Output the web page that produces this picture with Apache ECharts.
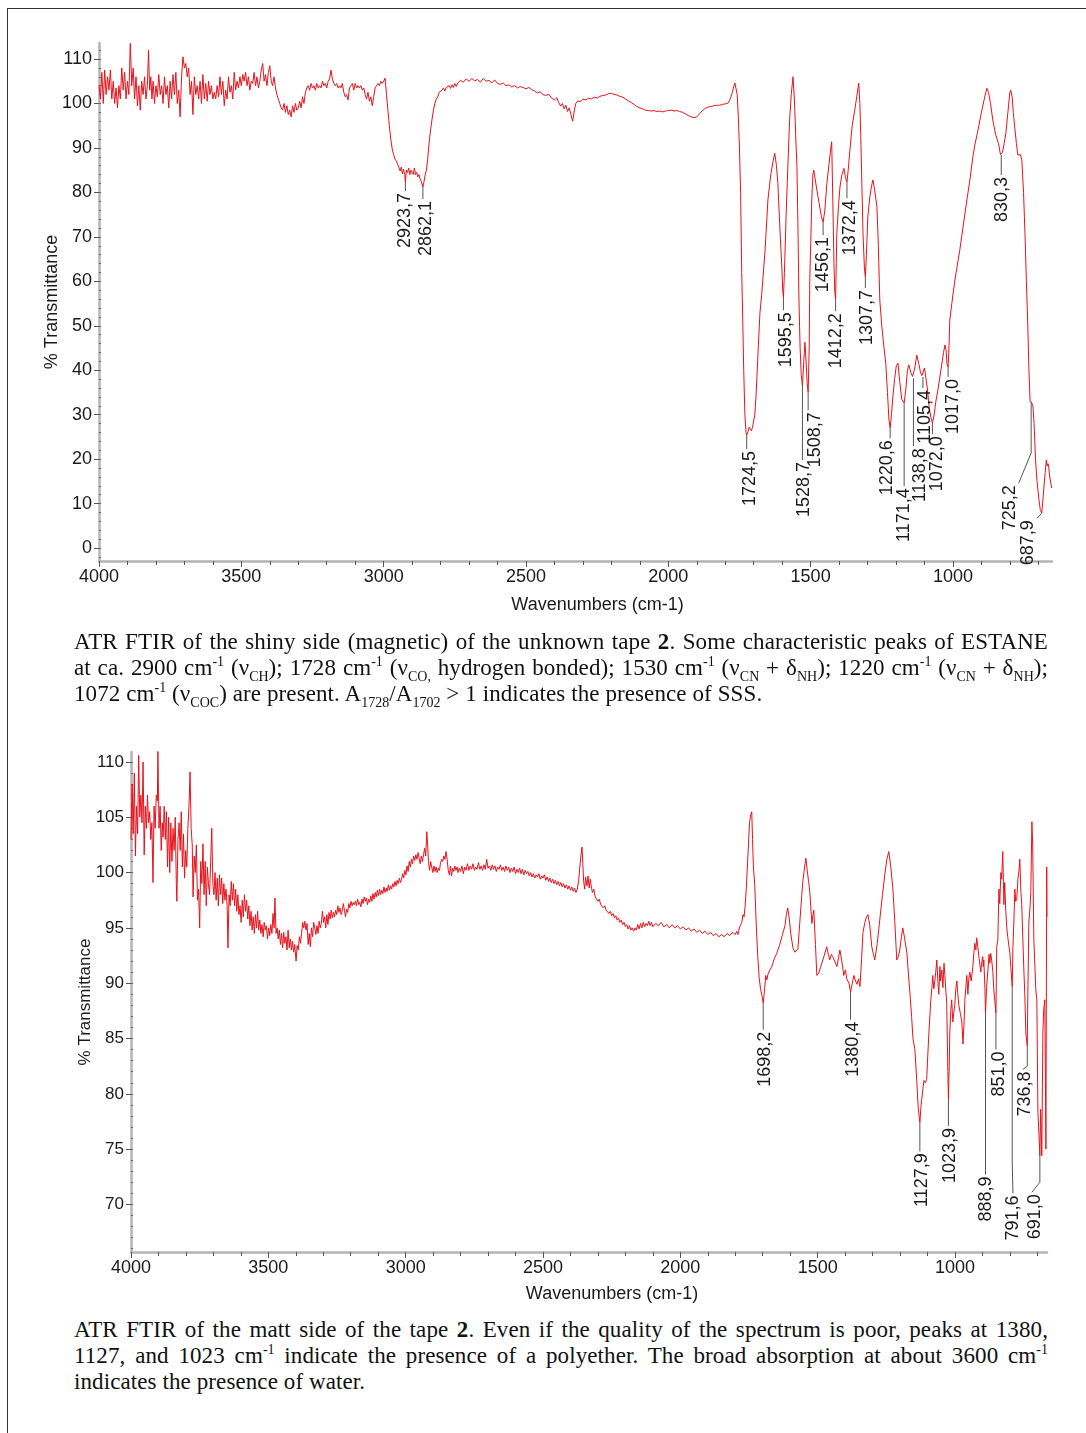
<!DOCTYPE html>
<html><head><meta charset="utf-8">
<script src="https://cdn.jsdelivr.net/npm/echarts@6.0.0/dist/echarts.min.js"></script>
<style>
html,body{margin:0;padding:0;background:#fff;}
body{width:1086px;height:1433px;position:relative;overflow:hidden;}
#frame{position:absolute;left:7px;top:8px;width:1200px;height:1500px;border-left:1.5px solid #333;border-top:1.5px solid #333;}
#c1{position:absolute;left:0;top:0;width:1086px;height:620px;}
#c2{position:absolute;left:0;top:700px;width:1086px;height:610px;}
.cap{position:absolute;left:74px;width:974px;font-family:"Liberation Serif","Times New Roman",serif;font-size:23px;letter-spacing:0.1px;line-height:26px;color:#111;}
.cap .l{white-space:nowrap;text-align:justify;text-align-last:justify;}
.cap .l.last{text-align-last:left;}
.cap sub,.cap sup{font-size:14px;line-height:0;letter-spacing:0;}
</style></head>
<body>
<div id="frame"></div>
<div id="c1"></div>
<div id="c2"></div>
<div class="cap" style="top:629px">
<div class="l">ATR FTIR of the shiny side (magnetic) of the unknown tape <b>2</b>. Some characteristic peaks of ESTANE</div>
<div class="l">at ca. 2900 cm<sup>-1</sup> (ν<sub>CH</sub>); 1728 cm<sup>-1</sup> (ν<sub>CO,</sub> hydrogen bonded); 1530 cm<sup>-1</sup> (ν<sub>CN</sub> + δ<sub>NH</sub>); 1220 cm<sup>-1</sup> (ν<sub>CN</sub> + δ<sub>NH</sub>);</div>
<div class="l last">1072 cm<sup>-1</sup> (ν<sub>COC</sub>) are present. A<sub>1728</sub>/A<sub>1702</sub> &gt; 1 indicates the presence of SSS.</div>
</div>
<div class="cap" style="top:1317px">
<div class="l">ATR FTIR of the matt side of the tape <b>2</b>. Even if the quality of the spectrum is poor, peaks at 1380,</div>
<div class="l">1127, and 1023 cm<sup>-1</sup> indicate the presence of a polyether. The broad absorption at about 3600 cm<sup>-1</sup></div>
<div class="l last">indicates the presence of water.</div>
</div>
<script>
// ---------------- DATA ----------------
var xTicks1 = [4000,3500,3000,2500,2000,1500,1000];
var xMinor1 = [4000,3900,3800,3700,3600,3500,3400,3300,3200,3100,3000,2900,2800,2700,2600,2500,2400,2300,2200,2100,2000,1900,1800,1700,1600,1500,1400,1300,1200,1100,1000,900,800,700];
var yTicks1 = [0,10,20,30,40,50,60,70,80,90,100,110];
var yMinor1 = [-2,0,2,4,6,8,10,12,14,16,18,20,22,24,26,28,30,32,34,36,38,40,42,44,46,48,50,52,54,56,58,60,62,64,66,68,70,72,74,76,78,80,82,84,86,88,90,92,94,96,98,100,102,104,106,108,110,112];

var xTicks2 = [4000,3500,3000,2500,2000,1500,1000];
var xMinor2 = [4000,3900,3800,3700,3600,3500,3400,3300,3200,3100,3000,2900,2800,2700,2600,2500,2400,2300,2200,2100,2000,1900,1800,1700,1600,1500,1400,1300,1200,1100,1000,900,800,700];
var yTicks2 = [70,75,80,85,90,95,100,105,110];
var yMinor2 = [66,67,68,69,70,71,72,73,74,75,76,77,78,79,80,81,82,83,84,85,86,87,88,89,90,91,92,93,94,95,96,97,98,99,100,101,102,103,104,105,106,107,108,109,110];

// spectrum 1: [wavenumber, %T]
var spectrum1 = [
[4000,104],[3995,101],[3990,107],[3985,100],[3980,107.5],[3975,102],[3970,106],[3965,103],[3960,107.5],[3955,101],[3950,105],[3945,100],[3940,103.5],[3935,99],[3930,104],[3925,101],[3920,108],[3915,103],[3910,107],[3905,101],[3900,105],[3895,102],[3890,113.5],[3885,104],[3880,108],[3875,101],[3870,106],[3865,99.5],[3860,104],[3855,98.5],[3850,105],[3845,102],[3840,106],[3835,101],[3830,104],[3826,112],[3822,103],[3818,106],[3814,101],[3810,105],[3805,100],[3800,104],[3795,101.5],[3790,106.5],[3785,102],[3780,104],[3775,100],[3770,106],[3765,102],[3760,104],[3755,99],[3750,105],[3745,101],[3740,106.5],[3735,102],[3730,107],[3725,100],[3720,103],[3715,97],[3710,106],[3705,110.5],[3700,108],[3695,109],[3690,106],[3685,108],[3680,102],[3675,105],[3670,97.5],[3665,106],[3660,102],[3655,104],[3650,101],[3645,105],[3640,100],[3635,106.5],[3630,101],[3625,104.5],[3620,100.5],[3615,105],[3610,102],[3605,104],[3600,101],[3595,102.5],[3590,101],[3585,104],[3580,101.5],[3575,106],[3570,102],[3565,105],[3560,99.5],[3555,103],[3550,101],[3545,106],[3540,102.5],[3535,104],[3530,101],[3525,107],[3520,103],[3515,105],[3510,103.5],[3505,106],[3500,104],[3495,106.5],[3490,105],[3485,107],[3480,104],[3475,106],[3470,103],[3465,105],[3460,104.5],[3455,107],[3450,104],[3445,106],[3440,103.5],[3435,105],[3430,107.5],[3425,109],[3420,105],[3415,106.5],[3410,104],[3405,107],[3400,108.5],[3395,105],[3390,104],[3385,106],[3380,103.5],[3375,102],[3370,101],[3365,100],[3360,99],[3355,98.5],[3350,100],[3345,98],[3340,99.5],[3335,97.5],[3330,98.5],[3325,97],[3320,99.5],[3315,98],[3310,100],[3305,98.5],[3300,99],[3295,100.5],[3290,99],[3285,101.5],[3280,100],[3275,102.5],[3270,103.5],[3265,104],[3260,103],[3255,104.5],[3250,103.5],[3245,104],[3240,103],[3235,104.5],[3230,103.5],[3225,104],[3220,103.5],[3215,105],[3210,104],[3205,104.5],[3200,103.5],[3195,105],[3190,105.5],[3185,107.5],[3180,105.5],[3175,104.5],[3170,104],[3165,104.5],[3160,103.5],[3155,104],[3150,103.5],[3145,104.5],[3140,102.5],[3135,101.5],[3130,102],[3125,100.8],[3120,103.5],[3115,104],[3110,104.5],[3105,103],[3100,104.5],[3095,103.5],[3090,104],[3085,103.5],[3080,104],[3075,103],[3070,103.5],[3065,102],[3060,101],[3055,102.5],[3050,100.5],[3045,101.5],[3040,99.5],[3035,101.5],[3030,103.5],[3025,104],[3020,104.5],[3015,104],[3010,105],[3005,104.5],[3000,105],[2995,105.7],[2990,102],[2985,98.5],[2980,95],[2975,92],[2970,89.8],[2965,88.5],[2960,87.5],[2955,87],[2950,86.2],[2946,86],[2942,84.8],[2938,85.7],[2934,84.2],[2930,85.2],[2926,84],[2923.7,82.3],[2920,85],[2916,84.5],[2912,85.5],[2908,84],[2904,85],[2900,84.5],[2896,84],[2892,85.5],[2888,84],[2884,84.5],[2880,83.5],[2876,84],[2872,83],[2868,82.5],[2862.1,81.2],[2858,82.5],[2854,84],[2850,85],[2846,87],[2842,90],[2838,92.5],[2834,94.5],[2830,96.5],[2825,98.5],[2820,100],[2815,101],[2810,101.5],[2805,102.5],[2800,102.5],[2795,103],[2790,103.5],[2785,102.8],[2780,103.6],[2775,103.2],[2770,104],[2765,103.4],[2760,104.2],[2755,103.6],[2750,104.5],[2745,103.8],[2740,104.6],[2735,104.9],[2730,105.2],[2720,104.8],[2710,105.5],[2700,105],[2690,105.6],[2680,105.1],[2670,105.4],[2660,104.8],[2650,105.6],[2640,105],[2630,105.2],[2620,104.6],[2610,105.3],[2600,104.5],[2590,104.3],[2580,104.6],[2570,104],[2560,104.2],[2550,103.7],[2540,104],[2530,103.5],[2520,103.8],[2510,103.6],[2500,103.3],[2490,103.6],[2480,103.1],[2470,102.8],[2460,102.4],[2450,102.6],[2440,102],[2430,101.8],[2420,102.1],[2410,101.2],[2400,100.8],[2392,101.3],[2385,100.2],[2378,99.4],[2372,100],[2366,98.8],[2360,99.6],[2354,98.2],[2348,99],[2342,97.5],[2336,96],[2330,98.5],[2325,100],[2318,100.6],[2310,100.4],[2300,101],[2290,100.8],[2280,101.2],[2270,101],[2260,101.4],[2250,101.2],[2240,101.6],[2230,101.8],[2220,101.9],[2210,102.2],[2200,102.3],[2190,102],[2180,101.9],[2170,101.6],[2160,101.4],[2150,101],[2140,100.6],[2130,100.2],[2120,99.8],[2110,99.3],[2100,99],[2090,98.8],[2080,98.5],[2070,98.4],[2060,98.3],[2050,98.4],[2040,98.2],[2030,98.3],[2020,98.1],[2010,98.3],[2000,98.4],[1990,98.5],[1980,98.3],[1970,98.4],[1960,98.2],[1950,98],[1940,97.7],[1930,97.3],[1920,97],[1910,96.8],[1905,96.6],[1900,97],[1890,97.7],[1880,98.4],[1870,98.9],[1860,99.2],[1850,99.3],[1840,99.5],[1830,99.6],[1820,99.6],[1810,99.8],[1800,99.9],[1790,100.1],[1785,100.6],[1780,101.5],[1775,102.5],[1770,103.8],
[1766,104.6],[1762,104.2],[1758,102],[1754,97],[1750,90],[1746,80],[1742,62],[1738,50],[1735,40],[1731,30],[1727,26],[1724.5,25.4],[1720,26.2],[1716,27.2],[1712,26.8],[1708,26.4],[1704,27.2],[1700,26.8],[1696,30],[1692,34],[1689,37.8],[1684,45],[1678,52.9],[1672,57],[1668,60.3],[1660,67],[1650,78.3],[1640,84],[1632,87],[1626,88.8],[1620,86],[1615,82],[1608,72],[1601,63],[1598,58],[1595.5,56.5],[1592,62],[1586,75],[1580,85.7],[1574,96],[1568,102],[1562,106],[1557,101],[1552,92],[1548,85.7],[1544,70],[1541,55.8],[1537,45.2],[1533,39],[1528.7,36.5],[1524,42],[1520,46.3],[1516,42],[1512,37],[1508.7,35],[1505,45],[1503,60],[1499,70],[1496,78.3],[1492,84],[1489,85],[1484,83],[1478,80.5],[1470,77.5],[1462,74.5],[1456.1,73.3],[1450,76],[1443,82],[1436,86],[1430,89.5],[1426,91.4],[1422,78],[1418,64],[1415,57.5],[1412.2,56],[1408,70.8],[1402,77],[1397,81.2],[1390,84],[1383,85.4],[1378,83.5],[1372.4,82.3],[1368,85],[1362,89.5],[1354,95],[1345,98.5],[1338,101.5],[1331,104.6],[1327,100],[1324,93],[1320,82],[1316,70.8],[1311,63],[1307.7,61],[1304,66],[1299,74.5],[1292,79],[1286,81.5],[1281,82.8],[1275,80.5],[1267,76.7],[1262,68],[1257,55.8],[1250,50],[1243,45.5],[1236,41.6],[1230,35],[1225,29],[1220.6,27],[1216,30],[1211,34],[1205,38],[1199,41],[1193,41.6],[1187,37.5],[1180,33.5],[1171.4,32.6],[1165,36],[1160,40],[1155,41.2],[1148,39.5],[1142,38.6],[1138.8,38.2],[1134,40.5],[1127,43.4],[1120,41.5],[1114,39.5],[1109,38.8],[1105.4,38.5],[1100,40.5],[1095,40.7],[1090,36],[1084,32],[1078,29.5],[1072,28.1],[1066,30],[1060,33],[1053,35.5],[1046,38.5],[1040,41],[1033,44],[1028,45.7],[1024,44.5],[1021,41.5],[1017,40.7],[1014,45],[1011,51.3],[1004,55],[993,60.3],[985,63.5],[976,67],[965,72],[951,78.3],[940,83],[930,88],[923,90.7],[912,94],[900,98],[890,101],[881,103.4],[875,102.5],[868,100],[860,96.3],[850,93],[840,91],[833,88.5],[830.3,88.4],[826,89],[820,91],[814,93.3],[807,98],[800,102.5],[797,103],[792,101.5],[788,98],[783,94.7],[777,91],[772,88.4],[766,88.2],[763,88.5],[758,87.3],[752,80],[747,70.8],[742,60],[737,50],[733,40],[729,33],[725.2,33],[722,32.5],[719,32],[715,28],[710,20],[705,15.3],[698,11],[693,8.5],[687.9,7.9],[684,10.8],[680,14],[676,17],[672,19.8],[669,18.5],[666,19],[663,18],[660,16],[656,14.5],[653,13.5]
];

// spectrum 2: [wavenumber, %T]
var spectrum2 = [
[4000,103],[3996,108],[3992,103.5],[3988,109],[3984,101.5],[3980,106],[3976,103.5],[3972,110.6],[3968,105],[3964,107],[3960,104.5],[3956,110],[3952,101.6],[3948,106],[3944,104],[3940,107],[3936,104.5],[3932,105.5],[3928,103],[3924,104.5],[3920,99.1],[3916,106],[3912,104],[3908,107],[3904,106.5],[3902,111],[3898,104],[3894,106],[3890,102],[3886,104.5],[3883,103.2],[3879,106],[3875,103],[3871,105.5],[3867,100.5],[3863,105],[3859,100],[3855,104.5],[3851,101],[3847,104],[3843,102],[3839,105],[3835,99],[3833,97.4],[3829,103],[3825,104.5],[3821,102],[3817,105.5],[3813,100.5],[3809,103.5],[3805,99.5],[3801,102],[3797,100.5],[3793,104],[3789,106],[3785,109.1],[3781,104],[3777,102.5],[3774,97.8],[3770,101.5],[3766,100],[3762,102.5],[3758,97.5],[3754,98.5],[3750,95],[3746,101],[3742,99],[3738,102.6],[3734,98],[3730,101],[3726,97],[3722,100.5],[3718,99],[3714,98],[3710,101],[3706,104],[3702,99],[3698,98],[3694,100],[3690,97.5],[3686,99.5],[3682,97],[3678,99.8],[3674,98],[3670,99.5],[3666,97.2],[3662,99],[3658,97.5],[3654,98.5],[3650,97],[3647,93.2],[3643,98],[3639,97],[3635,99.2],[3631,97.5],[3627,99],[3623,97],[3619,98.5],[3615,96.5],[3611,98],[3607,96.2],[3603,97],[3599,95.5],[3595,97.5],[3591,96],[3587,98],[3583,96.5],[3579,97.5],[3575,95.8],[3571,97],[3567,95.2],[3563,96.5],[3559,94.8],[3555,96],[3551,94.5],[3547,96.2],[3543,95],[3539,96.5],[3535,94.8],[3531,95.7],[3527,94.5],[3523,95.3],[3519,94.2],[3515,95.5],[3511,94.8],[3507,95.2],[3503,94],[3499,95],[3495,94.3],[3491,95.3],[3487,94.5],[3483,96.3],[3479,95],[3476,97.7],[3472,94.5],[3468,95],[3464,94],[3460,94.8],[3456,93.5],[3452,94.5],[3448,93.2],[3444,94.6],[3440,93.6],[3436,94.2],[3432,93],[3428,94.8],[3424,93.2],[3420,94],[3416,93],[3412,93.8],[3408,92.8],[3404,93.5],[3399,92],[3395,93.4],[3391,93],[3387,94.2],[3383,93.6],[3379,94.5],[3375,95.5],[3371,95],[3367,95.6],[3363,94.8],[3359,95.4],[3355,93.5],[3351,94.5],[3347,93.3],[3343,95],[3339,94.2],[3335,95.5],[3331,95],[3327,94.4],[3323,95.2],[3319,94.5],[3315,95.6],[3311,95],[3307,95.4],[3303,96.5],[3299,95.5],[3295,96],[3291,95],[3287,96.2],[3283,95.3],[3279,96.4],[3275,95.8],[3271,96.6],[3267,95.9],[3263,96.4],[3259,96],[3255,96.6],[3251,96.2],[3247,97],[3243,96.4],[3239,96.8],[3235,96.2],[3231,96.5],[3227,97.2],[3223,96.6],[3219,96],[3215,96.7],[3211,96.4],[3207,97.2],[3203,96.8],[3199,97.4],[3195,97],[3191,97.3],[3187,97.1],[3183,97.4],[3179,97],[3175,97.6],[3171,97.1],[3167,97.3],[3163,96.9],[3159,97.6],[3155,97.2],[3151,97.8],[3147,97.4],[3143,97.7],[3139,97.1],[3135,97.6],[3131,97.3],[3127,97.9],[3123,97.4],[3119,98.1],[3115,97.6],[3111,98.2],[3107,97.8],[3103,98.4],[3099,97.9],[3095,98.5],[3091,98],[3087,98.4],[3083,98.1],[3079,98.7],[3075,98.2],[3071,98.6],[3067,98.3],[3063,98.9],[3059,98.4],[3055,98.8],[3051,98.5],[3047,99],[3043,98.7],[3039,99.2],[3035,98.8],[3031,99.3],[3027,99],[3023,99.5],[3019,99.1],[3015,99.4],[3011,99.9],[3007,99.5],[3003,100.2],[2999,99.8],[2995,100.6],[2991,100.1],[2987,101],[2983,100.5],[2979,101.2],[2975,100.8],[2971,101.5],[2967,101.1],[2963,101.6],[2959,101.2],[2955,101.8],[2951,101.3],[2947,100.8],[2943,101.5],[2939,101],[2935,101.6],[2931,102.2],[2927,101.5],[2923,103.7],[2920,102.5],[2917,101],[2913,100.2],[2909,101],[2905,100.5],[2901,100],[2897,100.6],[2893,100.1],[2889,100.5],[2885,100],[2881,100.4],[2877,100.2],[2873,100.9],[2869,101.2],[2865,101],[2861,101.5],[2857,101.2],[2853,101.9],[2849,101.2],[2845,100.2],[2841,99.8],[2837,100.6],[2833,99.7],[2829,100.4],[2825,100.1],[2821,100.6],[2817,100.2],[2813,100.5],[2809,100],[2805,100.4],[2800,100.1],[2795,100.6],[2790,99.9],[2785,100.5],[2780,100.2],[2775,100.8],[2770,100.2],[2765,100.6],[2760,100.3],[2755,100.8],[2750,100.2],[2745,100.5],[2740,100.3],[2735,100.9],[2730,100.3],[2725,100.6],[2720,100.2],[2715,100.7],[2710,100.3],[2705,101.2],[2700,100.4],[2695,100.6],[2690,100.2],[2685,100.7],[2680,100.3],[2675,100.6],[2670,100.1],[2665,100.5],[2660,100.3],[2655,100.7],[2650,100.2],[2645,100.5],[2640,100.1],[2635,100.6],[2630,100.2],[2625,100.5],[2620,100],[2615,100.4],[2610,100.1],[2605,100.5],[2600,99.9],[2595,100.3],[2590,100],[2585,100.4],[2580,99.9],[2575,100.3],[2570,99.8],[2565,100.2],[2560,99.9],[2555,100.1],[2550,99.7],[2545,100],[2540,99.6],[2535,99.9],[2530,99.5],[2525,99.8],[2520,99.6],[2515,99.9],[2510,99.4],[2505,99.7],[2500,99.5],[2495,99.8],[2490,99.3],[2485,99.6],[2480,99.2],[2475,99.5],[2470,99.1],[2465,99.4],[2460,99],[2455,99.3],[2450,98.9],[2445,99.2],[2440,98.8],[2435,99.1],[2430,98.7],[2425,99],[2420,98.6],[2415,98.9],[2410,98.5],[2405,98.8],[2400,98.4],[2395,98.7],[2390,98.3],[2385,98.6],[2380,98.2],[2375,98.5],[2370,99.3],[2366,100.5],[2362,101.5],[2358,102.3],[2355,100.8],[2352,99.2],[2348,98.5],[2345,99.6],[2340,98.8],[2336,99.7],[2332,98.6],[2328,99.4],[2324,98.7],[2320,98.2],[2315,98.5],[2310,97.8],[2305,97.9],[2300,97.4],[2295,97.6],[2290,97.1],[2285,97.2],[2280,96.8],[2275,97],[2270,96.6],[2265,96.7],[2260,96.3],[2255,96.5],[2250,96.1],[2245,96.3],[2240,95.9],[2235,96.1],[2230,95.7],[2225,95.9],[2220,95.5],[2215,95.7],[2210,95.3],[2205,95.5],[2200,95.1],[2195,95.3],[2190,94.9],[2185,95.2],[2180,94.8],[2175,95],[2170,94.7],[2165,95],[2160,94.8],[2155,95.3],[2150,94.9],[2145,95.4],[2140,95],[2135,95.5],[2130,95.1],[2125,95.4],[2120,95.2],[2115,95.6],[2110,95.2],[2105,95.5],[2100,95.1],[2090,95.4],[2080,95.2],[2070,95.5],[2060,95.1],[2050,95.3],[2040,95],[2030,95.3],[2020,95],[2010,95.2],[2000,94.9],[1990,95.1],[1980,94.8],[1970,95],[1960,94.7],[1950,94.9],[1940,94.6],[1930,94.8],[1920,94.5],[1910,94.7],[1900,94.4],[1890,94.6],[1880,94.3],[1870,94.5],[1860,94.2],[1850,94.4],[1840,94.2],[1830,94.5],[1820,94.3],[1810,94.6],[1800,94.4],[1795,94.7],[1790,94.4],[1785,95],[1780,95.3],[1776,95.5],[1772,96.2],[1768,96],[1764,97],[1760,98.5],[1756,100.5],[1752,102.5],[1748,104.5],[1744,105.2],[1740,105.5],[1737,103],[1734,100.5],[1729,98.9],[1724,95.5],[1718,92.4],[1713,90.5],[1708,89.5],[1703,88.9],[1698.2,88.2],[1693,89.5],[1689,90.7],[1685,90.3],[1681,90.8],[1674,91.2],[1667,91.5],[1658,92.2],[1649,92.7],[1638,93.5],[1628,94.4],[1619,95.2],[1614,96.2],[1609,96.8],[1604,96],[1598,94.5],[1590,93.2],[1583,92.8],[1577,92.9],[1572,93.1],[1565,95.5],[1558,97.9],[1554,99.2],[1550,100],[1546,100.8],[1543,101.3],[1538,100.2],[1533,99.2],[1528,98.1],[1524,96.5],[1521,95.4],[1517,96.2],[1514,96.6],[1508,93.5],[1503,90.7],[1496,90.9],[1490,91.4],[1485,91.5],[1476,92.5],[1467,93.3],[1461,92.6],[1456,92.1],[1450,92.6],[1445,92.4],[1438,92],[1430,91.5],[1424,92.3],[1419,93],[1412,92],[1405,90.7],[1399,91.2],[1394,90.4],[1386,90],[1380.4,89.2],[1374,90],[1368,90.7],[1362,90.2],[1357,89.9],[1351,90.4],[1346,89.7],[1340,92.2],[1335,94.6],[1328,95.5],[1322,96],[1317,96.2],[1310,95.2],[1303,93.3],[1297,92.6],[1292,92.1],[1283,93.6],[1274,95.7],[1264,98],[1255,99.9],[1248,101.2],[1241,101.9],[1234,100.6],[1226,98.5],[1219,95.5],[1212,92.1],[1206,92.4],[1201,93],[1195,94.2],[1190,95],[1183,94],[1175,92.7],[1170,91],[1164,89.1],[1158,87],[1153,85],[1146,84],[1139,81.1],[1134,78.8],[1127.9,77.4],[1124,78.8],[1121,79.5],[1117,80.4],[1113,81.2],[1108,81],[1103,81.3],[1099,83.5],[1095,85.5],[1091,87.2],[1088,88.5],[1084,89.6],[1081,90.7],[1077,89.5],[1073,90.3],[1069,91.3],[1066,92.1],[1062,90],[1059,89],[1055,91.5],[1052,90.2],[1048,91.2],[1044,89.6],[1040,91.8],[1037,90.8],[1033,89.2],[1030,88.2],[1026,82],[1023.9,79.5],[1021,82.5],[1019,85.5],[1015,87.6],[1012,88.5],[1008,86.5],[1004,87.4],[1001,88],[997,89.5],[993,90.2],[990,89.1],[986,88],[980,87.2],[975,86.5],[971,84.5],[967,86.4],[964,88.5],[960,89.8],[957,90.7],[953,89],[950,90.3],[946,91],[941,90.2],[935,91.5],[931,92.8],[928,93.6],[924,93],[921,94.1],[917,93.3],[912,92.2],[906,91],[902,92],[899,92.4],[897,91.5],[895,92.1],[891,89.5],[888.9,87.3],[885,89.6],[880,91.2],[876,92.6],[873,91.8],[870,92.7],[866,92],[862,91],[859,89.5],[855,88.4],[851,87.3],[848,93.3],[844,93.9],[840,98.5],[837,97.2],[833,100],[830,99.4],[826,101.9],[822,97.1],[819,99.1],[815,96.5],[811,94.9],[808,94.2],[804,93.4],[800,92.7],[796,91.2],[791.6,89.7],[789,93.3],[785,96],[782,98.5],[779,97.4],[775,97.6],[771,99.4],[767,100.2],[764,101.2],[760,98.2],[757,97.1],[753,94],[749,91],[746,89.1],[742,85.5],[736.8,84.3],[735,88.5],[731,95.5],[727,96.8],[724,98.2],[720,104.6],[717,102.4],[713,94],[709,91.5],[706,89.5],[702,88.5],[698,78.3],[694,76.2],[691,74.4],[688,78.6],[684,74.4],[680,85.5],[677,87.6],[673,88.5],[669,75],[666,100.5],[665,96]
];

// peak annotations: [peakW, peakT, bendT, endW, endT]
var peakLabels1 = ['2923,7','2862,1','1724,5','1595,5','1528,7','1508,7','1456,1','1412,2','1372,4','1307,7','1220,6','1171,4','1138,8','1105,4','1072,0','1017,0','830,3','725,2','687,9'];
var peakAnn1 = [
[2923.7,82.3,80.3,2923.7,80.3],
[2862.1,81.2,78.5,2862.1,78.5],
[1724.5,25.4,22.3,1724.5,22.3],
[1595.5,56.5,53.5,1595.5,53.5],
[1528.7,36.5,19.8,1528.7,19.8],
[1508.7,35.0,31.0,1508.7,31.0],
[1456.1,73.3,70.4,1456.1,70.4],
[1412.2,56.0,53.3,1412.2,53.3],
[1372.4,82.3,78.7,1372.4,78.7],
[1307.7,61.0,58.5,1307.7,58.5],
[1220.6,27.0,24.7,1220.6,24.7],
[1171.4,32.6,13.9,1171.4,13.9],
[1138.8,38.2,22.9,1138.8,22.9],
[1105.4,38.5,36.0,1105.4,36.0],
[1072.0,28.1,25.6,1072.0,25.6],
[1017.0,40.7,38.5,1017.0,38.5],
[830.3,88.4,83.9,830.3,83.9],
[725.2,33.0,21.4,769,14.6],
[687.9,7.9,7.9,705,6.7]
];
var peakLabels2 = ['1698,2','1380,4','1127,9','1023,9','888,9','851,0','791,6','736,8','691,0'];
var peakAnn2 = [
[1698.2,88.2,85.8,1698.2,85.8],
[1380.4,89.2,86.7,1380.4,86.7],
[1127.9,77.4,74.8,1127.9,74.8],
[1023.9,79.5,77.1,1023.9,77.1],
[888.9,87.3,72.7,888.9,72.7],
[851.0,87.3,84.0,851.0,84.0],
[791.6,89.7,73.8,789,71.0],
[736.8,84.3,82.5,753,82.2],
[691.0,74.4,72.0,720,71.1]
];

// ---------------- LAYOUT / STYLE ----------------
var labelDx1 = [0,3,3,3,2,7,0,0,3,2,-3,0,7,2,5,5,1,-9,-9];
var labelDx2 = [2,3,2,2,1,3,0,2,3];

var SANS = '"Liberation Sans", Arial, sans-serif';
var TXT = '#1a1a1a';
var AXC = '#b4b4b4';
var TKC = '#555';
var RED = '#e8121b';
function plain(v) { return String(v); }

function annSeries(labels, ann, dx) {
  return {
    type: 'custom', xAxisIndex: 0, yAxisIndex: 0, clip: false, silent: true, z: 5,
    animation: false,
    data: ann.map(function (a) { return [a[0], a[1]]; }),
    encode: { x: 0, y: 1 },
    renderItem: function (params, api) {
      var a = ann[params.dataIndex];
      var p = api.coord([a[0], a[1]]);
      var b = api.coord([a[0], a[2]]);
      var e = api.coord([a[3], a[4]]);
      return {
        type: 'group',
        children: [
          { type: 'polyline', shape: { points: [p, b, e] }, style: { stroke: '#555', lineWidth: 1, fill: null } },
          { type: 'text', x: e[0] + dx[params.dataIndex], y: e[1] + 2, rotation: Math.PI / 2,
            style: { text: labels[params.dataIndex], align: 'right', verticalAlign: 'middle',
                     font: '18px ' + SANS, fill: TXT } }
        ]
      };
    }
  };
}

function buildOption(cfg) {
  return {
    animation: false,
    backgroundColor: 'transparent',
    grid: { left: cfg.left, top: cfg.top, width: cfg.width, height: cfg.height, outerBoundsMode: 'none', containLabel: false },
    xAxis: [{
      type: 'value', inverse: true, min: cfg.xmin, max: 4000,
      name: 'Wavenumbers (cm-1)', nameLocation: 'middle', nameGap: cfg.xNameGap, nameMoveOverlap: false,
      nameTextStyle: { fontFamily: SANS, fontSize: 18, color: TXT, padding: [0, 0, 0, cfg.xNamePad] },
      axisLine: { show: true, onZero: false, lineStyle: { color: AXC, width: 2.5 } },
      axisTick: { show: true, customValues: cfg.xMinor, length: 4, lineStyle: { color: TKC, width: 1 } },
      axisLabel: { customValues: cfg.xTicks, formatter: plain, margin: 7, fontFamily: SANS, fontSize: 18, color: TXT },
      splitLine: { show: false }
    }, {
      type: 'value', inverse: true, min: cfg.xmin, max: 4000, position: 'bottom',
      axisLine: { show: false, onZero: false },
      axisTick: { show: true, customValues: cfg.xTicks, length: 6, lineStyle: { color: TKC, width: 1 } },
      axisLabel: { show: false },
      splitLine: { show: false }
    }],
    yAxis: [{
      type: 'value', min: cfg.ymin, max: cfg.ymax, position: 'left',
      name: '% Transmittance', nameLocation: 'middle', nameGap: cfg.yNameGap, nameMoveOverlap: false,
      nameTextStyle: { fontFamily: SANS, fontSize: cfg.yNameSize, color: TXT },
      axisLine: { show: true, onZero: false, lineStyle: { color: AXC, width: 2.5 } },
      axisTick: { show: true, customValues: cfg.yTicks, length: 5, lineStyle: { color: TKC, width: 1 } },
      axisLabel: { customValues: cfg.yTicks, formatter: plain, margin: 7, fontFamily: SANS, fontSize: cfg.yLabelSize, color: TXT },
      splitLine: { show: false }
    }, {
      type: 'value', min: cfg.ymin, max: cfg.ymax, position: 'left',
      axisLine: { show: false, onZero: false },
      axisTick: { show: true, inside: true, customValues: cfg.yMinor, length: 2, lineStyle: { color: '#666', width: 1 } },
      axisLabel: { show: false },
      splitLine: { show: false }
    }],
    series: [{
      type: 'line', data: cfg.data, xAxisIndex: 0, yAxisIndex: 0,
      showSymbol: false, symbol: 'none', smooth: false, sampling: null,
      lineStyle: { color: RED, width: 1 }, z: 3, silent: true
    }, annSeries(cfg.labels, cfg.ann, cfg.dx)]
  };
}

var chart1 = echarts.init(document.getElementById('c1'));
chart1.setOption(buildOption({
  left: 99, top: 43, width: 953, height: 518,
  xmin: 652, ymin: -2.9, ymax: 113.6,
  xTicks: xTicks1, xMinor: xMinor1, yTicks: yTicks1, yMinor: yMinor1,
  xNameGap: 35, xNamePad: 44, yNameGap: 38, yNameSize: 18, yLabelSize: 18,
  data: spectrum1, labels: peakLabels1, ann: peakAnn1, dx: labelDx1
}));

var chart2 = echarts.init(document.getElementById('c2'));
chart2.setOption(buildOption({
  left: 131, top: 52, width: 916, height: 500,
  xmin: 665, ymin: 65.7, ymax: 110.9,
  xTicks: xTicks2, xMinor: xMinor2, yTicks: yTicks2, yMinor: yMinor2,
  xNameGap: 33, xNamePad: 46, yNameGap: 37, yNameSize: 17, yLabelSize: 17,
  data: spectrum2, labels: peakLabels2, ann: peakAnn2, dx: labelDx2
}));
</script>
</body></html>
